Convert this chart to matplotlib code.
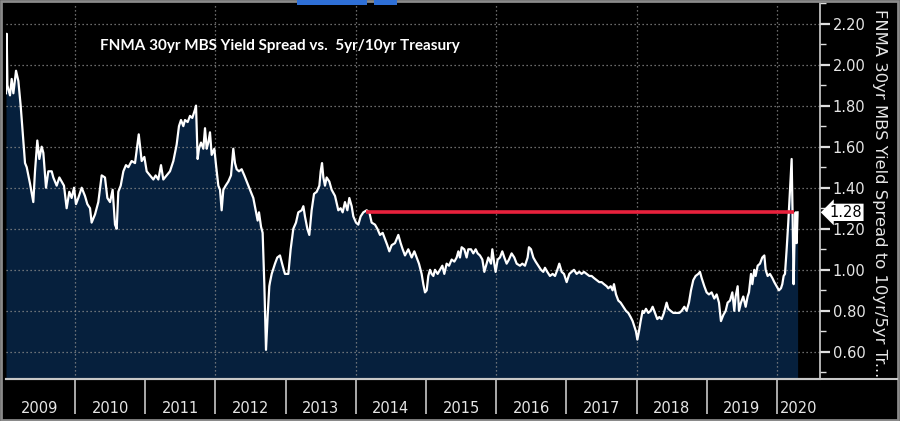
import matplotlib
matplotlib.use('Agg')
import matplotlib.pyplot as plt
from matplotlib.patches import Rectangle
from matplotlib.lines import Line2D
import matplotlib.transforms as mtransforms
import numpy as np

# decimal year of each observation
years = [
    2009.017, 2009.027, 2009.037, 2009.050, 2009.074, 2009.098, 2009.122, 2009.160, 2009.193, 2009.226,
    2009.255, 2009.288, 2009.312, 2009.359, 2009.406, 2009.430, 2009.463, 2009.492, 2009.525, 2009.549,
    2009.587, 2009.620, 2009.668, 2009.691, 2009.739, 2009.777, 2009.810, 2009.843, 2009.881, 2009.919,
    2009.952, 2009.986, 2010.014, 2010.047, 2010.095, 2010.142, 2010.176, 2010.214, 2010.237, 2010.285,
    2010.332, 2010.380, 2010.427, 2010.461, 2010.499, 2010.536, 2010.570, 2010.594, 2010.617, 2010.651,
    2010.689, 2010.726, 2010.760, 2010.807, 2010.855, 2010.908, 2010.950, 2010.988, 2011.021, 2011.068,
    2011.116, 2011.149, 2011.187, 2011.225, 2011.258, 2011.306, 2011.353, 2011.401, 2011.448, 2011.481,
    2011.510, 2011.543, 2011.567, 2011.605, 2011.638, 2011.671, 2011.709, 2011.724, 2011.747, 2011.766,
    2011.795, 2011.828, 2011.852, 2011.876, 2011.899, 2011.923, 2011.947, 2011.985, 2012.009, 2012.042,
    2012.066, 2012.089, 2012.113, 2012.146, 2012.184, 2012.222, 2012.255, 2012.279, 2012.303, 2012.336,
    2012.374, 2012.412, 2012.446, 2012.493, 2012.540, 2012.574, 2012.602, 2012.621, 2012.650, 2012.673,
    2012.697, 2012.721, 2012.745, 2012.768, 2012.778, 2012.802, 2012.849, 2012.882, 2012.920, 2012.958,
    2012.991, 2013.039, 2013.072, 2013.110, 2013.148, 2013.181, 2013.229, 2013.253, 2013.276, 2013.310,
    2013.338, 2013.371, 2013.405, 2013.443, 2013.481, 2013.500, 2013.519, 2013.538, 2013.561, 2013.585,
    2013.623, 2013.656, 2013.704, 2013.751, 2013.784, 2013.813, 2013.846, 2013.880, 2013.908, 2013.941,
    2013.965, 2014.003, 2014.036, 2014.069, 2014.107, 2014.155, 2014.193, 2014.226, 2014.274, 2014.307,
    2014.345, 2014.383, 2014.416, 2014.449, 2014.478, 2014.511, 2014.558, 2014.606, 2014.639, 2014.668,
    2014.701, 2014.748, 2014.796, 2014.834, 2014.867, 2014.900, 2014.938, 2014.962, 2014.986, 2015.010,
    2015.033, 2015.057, 2015.081, 2015.105, 2015.128, 2015.166, 2015.200, 2015.233, 2015.261, 2015.294,
    2015.328, 2015.366, 2015.404, 2015.437, 2015.461, 2015.484, 2015.508, 2015.546, 2015.579, 2015.603,
    2015.641, 2015.674, 2015.708, 2015.736, 2015.769, 2015.803, 2015.831, 2015.864, 2015.888, 2015.926,
    2015.945, 2015.973, 2015.992, 2016.021, 2016.054, 2016.087, 2016.116, 2016.149, 2016.182, 2016.220,
    2016.258, 2016.292, 2016.339, 2016.372, 2016.410, 2016.448, 2016.467, 2016.496, 2016.529, 2016.562,
    2016.600, 2016.638, 2016.671, 2016.695, 2016.728, 2016.766, 2016.804, 2016.838, 2016.871, 2016.899,
    2016.933, 2016.966, 2017.004, 2017.042, 2017.075, 2017.108, 2017.146, 2017.184, 2017.217, 2017.251,
    2017.289, 2017.327, 2017.360, 2017.393, 2017.431, 2017.469, 2017.502, 2017.536, 2017.574, 2017.597,
    2017.631, 2017.659, 2017.678, 2017.707, 2017.740, 2017.773, 2017.811, 2017.849, 2017.882, 2017.915,
    2017.944, 2017.963, 2017.991, 2018.011, 2018.034, 2018.058, 2018.086, 2018.105, 2018.134, 2018.167,
    2018.200, 2018.229, 2018.262, 2018.295, 2018.324, 2018.357, 2018.390, 2018.428, 2018.452, 2018.485,
    2018.523, 2018.571, 2018.609, 2018.642, 2018.680, 2018.713, 2018.746, 2018.775, 2018.808, 2018.841,
    2018.879, 2018.903, 2018.927, 2018.965, 2018.998, 2019.031, 2019.069, 2019.107, 2019.141, 2019.174,
    2019.202, 2019.236, 2019.269, 2019.297, 2019.331, 2019.364, 2019.392, 2019.411, 2019.440, 2019.459,
    2019.487, 2019.520, 2019.554, 2019.582, 2019.601, 2019.630, 2019.649, 2019.677, 2019.696, 2019.725,
    2019.758, 2019.791, 2019.820, 2019.839, 2019.867, 2019.900, 2019.934, 2019.962, 2019.995, 2020.028,
    2020.057, 2020.076, 2020.095, 2020.114, 2020.138, 2020.161, 2020.185, 2020.209, 2020.223, 2020.237,
    2020.247, 2020.266, 2020.280, 2020.294,
]

# FNMA 30yr MBS yield spread (%)
spread = [
    1.86, 2.15, 1.90, 1.88, 1.85, 1.93, 1.86, 1.97, 1.92, 1.80,
    1.67, 1.52, 1.50, 1.42, 1.33, 1.48, 1.63, 1.54, 1.60, 1.57,
    1.40, 1.48, 1.48, 1.45, 1.41, 1.45, 1.43, 1.41, 1.30, 1.38,
    1.35, 1.40, 1.32, 1.35, 1.40, 1.36, 1.32, 1.30, 1.23, 1.27,
    1.33, 1.46, 1.45, 1.35, 1.33, 1.39, 1.22, 1.20, 1.38, 1.41,
    1.48, 1.51, 1.50, 1.53, 1.52, 1.66, 1.53, 1.55, 1.48, 1.46,
    1.44, 1.46, 1.44, 1.51, 1.44, 1.46, 1.48, 1.53, 1.61, 1.70,
    1.73, 1.70, 1.73, 1.72, 1.75, 1.74, 1.78, 1.80, 1.54, 1.59,
    1.62, 1.59, 1.69, 1.59, 1.62, 1.67, 1.56, 1.59, 1.51, 1.41,
    1.39, 1.29, 1.39, 1.41, 1.43, 1.46, 1.59, 1.52, 1.49, 1.48,
    1.49, 1.46, 1.43, 1.39, 1.35, 1.29, 1.24, 1.28, 1.21, 1.18,
    0.93, 0.61, 0.78, 0.92, 0.94, 0.98, 1.03, 1.06, 1.07, 1.02,
    0.98, 0.98, 1.10, 1.20, 1.23, 1.28, 1.29, 1.31, 1.26, 1.20,
    1.17, 1.29, 1.37, 1.38, 1.41, 1.48, 1.52, 1.45, 1.41, 1.45,
    1.43, 1.39, 1.36, 1.29, 1.30, 1.28, 1.33, 1.29, 1.35, 1.31,
    1.26, 1.23, 1.22, 1.26, 1.28, 1.29, 1.28, 1.23, 1.22, 1.20,
    1.17, 1.18, 1.15, 1.12, 1.09, 1.12, 1.13, 1.17, 1.13, 1.10,
    1.07, 1.10, 1.06, 1.09, 1.06, 1.03, 0.98, 0.93, 0.89, 0.90,
    0.97, 1.00, 0.98, 0.97, 1.00, 0.98, 1.00, 1.02, 0.98, 1.03,
    1.02, 1.05, 1.04, 1.06, 1.09, 1.06, 1.11, 1.10, 1.06, 1.10,
    1.10, 1.08, 1.10, 1.08, 1.07, 1.05, 0.99, 1.03, 1.06, 1.03,
    1.10, 1.03, 0.99, 1.05, 1.06, 1.09, 1.06, 1.03, 1.05, 1.08,
    1.06, 1.03, 1.02, 1.03, 1.02, 1.06, 1.11, 1.10, 1.06, 1.04,
    1.02, 1.00, 0.99, 1.01, 0.99, 0.97, 0.98, 0.97, 1.00, 1.03,
    0.99, 0.98, 0.94, 0.98, 0.99, 1.00, 0.98, 0.99, 0.98, 0.99,
    0.98, 0.97, 0.97, 0.96, 0.95, 0.94, 0.94, 0.93, 0.92, 0.91,
    0.92, 0.90, 0.93, 0.88, 0.85, 0.84, 0.82, 0.80, 0.79, 0.77,
    0.75, 0.73, 0.70, 0.66, 0.70, 0.75, 0.80, 0.79, 0.81, 0.79,
    0.80, 0.82, 0.79, 0.76, 0.77, 0.76, 0.79, 0.84, 0.81, 0.80,
    0.79, 0.79, 0.79, 0.80, 0.82, 0.80, 0.84, 0.90, 0.95, 0.97,
    0.98, 0.99, 0.96, 0.92, 0.89, 0.88, 0.89, 0.86, 0.88, 0.84,
    0.75, 0.78, 0.80, 0.84, 0.85, 0.89, 0.80, 0.87, 0.92, 0.80,
    0.84, 0.87, 0.82, 0.87, 0.89, 0.98, 0.93, 1.00, 0.97, 1.02,
    1.03, 1.06, 1.07, 1.00, 0.97, 0.98, 0.96, 0.94, 0.92, 0.90,
    0.91, 0.93, 0.97, 0.98, 1.10, 1.23, 1.39, 1.54, 1.26, 0.93,
    1.10, 1.28, 1.13, 1.28,
]

year_labels = ['2009', '2010', '2011', '2012', '2013', '2014',
               '2015', '2016', '2017', '2018', '2019', '2020']
level_value = 1.28
level_start = 2014.15
level_end = 2020.24
title = 'FNMA 30yr MBS Yield Spread vs.  5yr/10yr Treasury'
right_label = 'FNMA 30yr MBS Yield Spread to 10yr/5yr Tr...'

W, H = 900, 421
fig = plt.figure(figsize=(W / 100, H / 100), dpi=100, facecolor='black')
ax = fig.add_axes([6 / W, 42 / H, 814 / W, 376 / H])
ax.set_facecolor('black')

x_min, x_max = 2009.017, 2020.613
y_min, y_max = 0.468, 2.30
ax.set_xlim(x_min, x_max)
ax.set_ylim(y_min, y_max)

# area + line
ax.fill_between(years, spread, y_min, color='#06203d', lw=0, zorder=1)
ax.plot(years, spread, color='white', lw=1.6, zorder=4)

# dotted grid on top of the area
grid_kw = dict(color='#8c8c8c', lw=0.9, ls=(0, (1, 2.2)), zorder=2)
for v in np.arange(0.6, 2.21, 0.2):
    ax.axhline(v, **grid_kw)
for yr in range(2010, 2021, 2):
    ax.axvline(yr, **grid_kw)

# red level line
ax.hlines(level_value, level_start, level_end, color='#e8213c', lw=2.6, zorder=5)

# title inside plot
ax.text(0.1155, 0.886, title, transform=ax.transAxes, color='white',
        fontsize=11, fontweight='bold', family='Lato', ha='left', va='center', zorder=6)

# spines
for s in ['top', 'left']:
    ax.spines[s].set_visible(False)
ax.spines['right'].set_color('#d0d0d0')
ax.spines['right'].set_linewidth(1.2)
ax.spines['bottom'].set_color('#c8c8c8')
ax.spines['bottom'].set_linewidth(1.5)

# right y axis
ax.yaxis.tick_right()
ax.set_yticks(np.arange(0.6, 2.21, 0.2))
ax.set_yticks(np.arange(0.5, 2.31, 0.2), minor=True)
ax.set_yticklabels(['%.2f' % v for v in np.arange(0.6, 2.21, 0.2)])
ax.tick_params(axis='y', which='major', direction='out', length=7, width=1.6,
               color='#e0e0e0', labelcolor='#e6e6e6', labelsize=10.5, pad=2)
ax.tick_params(axis='y', which='minor', direction='out', length=4, width=1,
               color='#e0e0e0')
for lab in ax.get_yticklabels():
    lab.set_family('DejaVu Sans')

# x axis: long separators at year boundaries, labels centred in each year
ax.set_xticks(range(2010, 2021))
ax.set_xticklabels([])
ax.tick_params(axis='x', which='major', direction='out', length=25, width=1.2,
               color='#c8c8c8')
label_pos = [y + 0.5 for y in range(2009, 2020)] + [(2020 + x_max) / 2]
ax.set_xticks(label_pos, minor=True)
ax.set_xticklabels(year_labels, minor=True)
ax.tick_params(axis='x', which='minor', length=0, labelcolor='#e6e6e6',
               labelsize=10.5, pad=16)

# current value tag
tag_tr = mtransforms.blended_transform_factory(ax.transAxes, ax.transData)
ax.text(1.012, level_value, '%.2f' % level_value, transform=tag_tr, color='black',
        fontsize=10.5, ha='left', va='center', clip_on=False, zorder=7,
        bbox=dict(boxstyle='larrow,pad=0.08', fc='white', ec='none'))

# right axis title
fig.text(880 / W, 1 - 193 / H, right_label, rotation=270, color='#e6e6e6',
         fontsize=11.8, ha='center', va='center')

# frame decorations
fig.add_artist(Line2D([6 / W, 897 / W], [42 / H, 42 / H], color='#c8c8c8', lw=1.5))
fig.add_artist(Rectangle((0.001, 0.002), 0.997, 0.995, transform=fig.transFigure,
                         fill=False, ec='#8a8a8a', lw=2))
fig.add_artist(Rectangle((297 / W, 1 - 5 / H), 70 / W, 5 / H, transform=fig.transFigure,
                         color='#2e6fd6', lw=0))
fig.add_artist(Rectangle((374 / W, 1 - 5 / H), 23 / W, 5 / H, transform=fig.transFigure,
                         color='#2e6fd6', lw=0))

fig.savefig('out.png', dpi=100, facecolor='black')
